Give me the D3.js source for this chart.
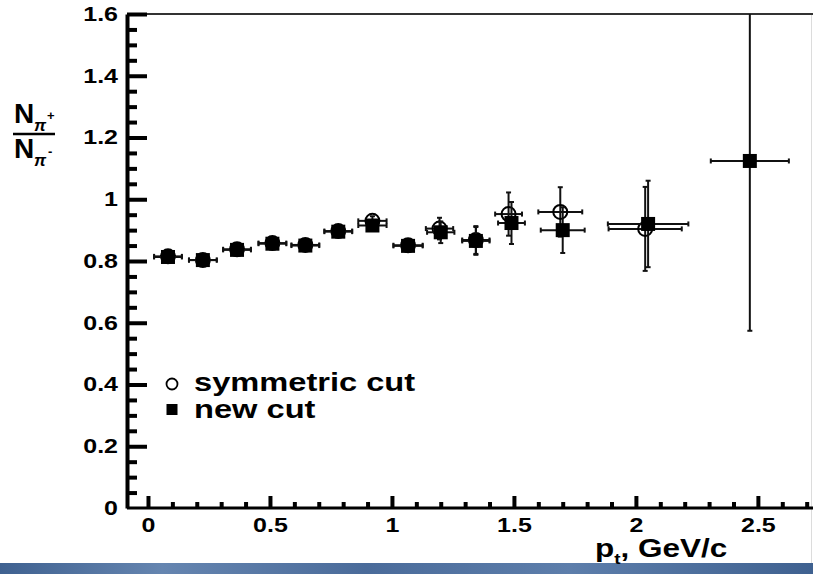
<!DOCTYPE html>
<html>
<head lang="en">
  <meta charset="UTF-8">
  <title>pi+/pi- ratio vs pt</title>
  <script src="https://cdn.jsdelivr.net/npm/d3@7"></script>
</head>
<style>
  body { margin: 0; background: #fff; }
  #chart text { font-family: "Liberation Sans", Arial, sans-serif; font-weight: bold; fill: #000; }
</style>
<body>

<svg id="chart" width="813" height="574"></svg>

<script>
  // new cut (filled squares)
  var ptNew    = [0.082, 0.225, 0.365, 0.51, 0.645, 0.78, 0.92, 1.066, 1.2, 1.344, 1.49, 1.70, 2.05, 2.467];
  var dptNew   = [0.057, 0.057, 0.057, 0.057, 0.057, 0.057, 0.058, 0.06, 0.056, 0.056, 0.055, 0.09, 0.165, 0.16];
  var ratioNew = [0.813, 0.803, 0.836, 0.856, 0.850, 0.895, 0.915, 0.849, 0.893, 0.865, 0.923, 0.900, 0.920, 1.124];
  var errNew   = [0.008, 0.008, 0.009, 0.009, 0.010, 0.012, 0.015, 0.018, 0.035, 0.045, 0.068, 0.074, 0.140, 0.550];

  // symmetric cut (open circles)
  var ptSym    = [0.082, 0.225, 0.365, 0.51, 0.645, 0.78, 0.92, 1.066, 1.195, 1.344, 1.478, 1.69, 2.038];
  var dptSym   = [0.057, 0.057, 0.057, 0.057, 0.057, 0.057, 0.058, 0.06, 0.056, 0.056, 0.055, 0.09, 0.15];
  var ratioSym = [0.815, 0.803, 0.838, 0.858, 0.852, 0.897, 0.930, 0.851, 0.905, 0.868, 0.952, 0.959, 0.904];
  var errSym   = [0.008, 0.008, 0.009, 0.009, 0.010, 0.012, 0.015, 0.018, 0.035, 0.045, 0.070, 0.080, 0.136];

  var xTickValues = [0, 0.5, 1, 1.5, 2, 2.5];
  var xTickLabels = ['0', '0.5', '1', '1.5', '2', '2.5'];
  var yTickValues = [0, 0.2, 0.4, 0.6, 0.8, 1, 1.2, 1.4, 1.6];
  var yTickLabels = ['0', '0.2', '0.4', '0.6', '0.8', '1', '1.2', '1.4', '1.6'];
  var legendLabels = ['symmetric cut', 'new cut'];

  var plotLeft = 127, plotRight = 814, plotTop = 14, plotBottom = 508;
  var x = d3.scaleLinear().domain([-0.086, 2.73]).range([plotLeft, plotRight]);
  var y = d3.scaleLinear().domain([0, 1.6]).range([plotBottom, plotTop]);
  var labelStretch = 1.25;

  var svg = d3.select('#chart');
  var defs = svg.append('defs');

  // blue strip at the bottom
  var grad = defs.append('linearGradient').attr('id', 'strip');
  [['0%', '#3f6190'], ['20%', '#6585b0'], ['45%', '#4a6b9a'], ['70%', '#5d7eab'], ['100%', '#3f6190']]
    .forEach(function (s) { grad.append('stop').attr('offset', s[0]).attr('stop-color', s[1]); });
  svg.append('rect').attr('x', 0).attr('y', 563).attr('width', 813).attr('height', 11).attr('fill', 'url(#strip)');
  svg.append('line').attr('x1', 811.5).attr('x2', 811.5).attr('y1', plotTop).attr('y2', 563)
    .attr('stroke', '#dcdcdc').attr('stroke-width', 1);

  defs.append('clipPath').attr('id', 'plot')
    .append('rect').attr('x', plotLeft).attr('y', plotTop).attr('width', plotRight - plotLeft).attr('height', plotBottom - plotTop);

  // top frame
  svg.append('line').attr('x1', plotLeft).attr('x2', 813).attr('y1', plotTop).attr('y2', plotTop)
    .attr('stroke', '#333').attr('stroke-width', 2);

  // x axis: minor then major
  var xMinor = d3.range(1, 28).map(function (i) { return i / 10; })
    .filter(function (d) { return Math.abs(d * 2 - Math.round(d * 2)) > 1e-6; });
  var gx = svg.append('g').attr('transform', 'translate(0,' + plotBottom + ')');
  gx.append('g').call(d3.axisBottom(x).tickValues(xMinor).tickSizeInner(-6).tickSizeOuter(0).tickFormat(''))
    .call(function (g) { g.select('.domain').remove(); });
  gx.append('g').call(d3.axisBottom(x).tickValues(xTickValues).tickSizeInner(-12).tickSizeOuter(0).tickPadding(10)
      .tickFormat(function (d, i) { return xTickLabels[i]; }))
    .call(function (g) { g.select('.domain').attr('stroke-width', 3).attr('d', 'M' + plotLeft + ',0H813'); });
  gx.selectAll('.tick line').attr('stroke', '#000').attr('stroke-width', 4);
  gx.selectAll('text').attr('font-size', 20).attr('transform', 'scale(' + labelStretch + ',1)')
    .attr('font-family', '"Liberation Sans", Arial, sans-serif').attr('font-weight', 'bold');

  // y axis: minor then major
  var yMinor = d3.range(1, 33).map(function (i) { return i / 20; })
    .filter(function (d) { return Math.abs(d * 5 - Math.round(d * 5)) > 1e-6; });
  var gy = svg.append('g').attr('transform', 'translate(' + plotLeft + ',0)');
  gy.append('g').call(d3.axisLeft(y).tickValues(yMinor).tickSizeInner(-10).tickSizeOuter(0).tickFormat(''))
    .call(function (g) { g.select('.domain').remove(); });
  gy.append('g').call(d3.axisLeft(y).tickValues(yTickValues).tickSizeInner(-20).tickSizeOuter(0).tickPadding(9)
      .tickFormat(function (d, i) { return yTickLabels[i]; }))
    .call(function (g) { g.select('.domain').attr('stroke-width', 4); });
  gy.selectAll('.tick line').attr('stroke', '#000').attr('stroke-width', 4);
  gy.selectAll('.tick').filter(function (d) { return d === 0; }).select('line').remove();
  gy.selectAll('text').attr('font-size', 20).attr('x', -9 / labelStretch).attr('transform', 'scale(' + labelStretch + ',1)')
    .attr('font-family', '"Liberation Sans", Arial, sans-serif').attr('font-weight', 'bold');

  // y title: N_pi+ / N_pi-
  var yt = svg.append('g');
  yt.append('text').attr('x', 14).attr('y', 123).attr('font-size', 28).text('N');
  yt.append('text').attr('x', 34).attr('y', 131).attr('font-size', 17).attr('font-style', 'italic').attr('font-weight', 'normal').text('\u03c0');
  yt.append('text').attr('x', 47).attr('y', 120).attr('font-size', 13).text('+');
  yt.append('line').attr('x1', 13).attr('x2', 55).attr('y1', 134).attr('y2', 134).attr('stroke', '#000').attr('stroke-width', 2.5);
  yt.append('text').attr('x', 14).attr('y', 158).attr('font-size', 28).text('N');
  yt.append('text').attr('x', 34).attr('y', 166).attr('font-size', 17).attr('font-style', 'italic').attr('font-weight', 'normal').text('\u03c0');
  yt.append('text').attr('x', 48).attr('y', 156).attr('font-size', 13).text('-');

  // x title
  var xt = svg.append('text').attr('transform', 'translate(595,557) scale(1.26,1)').attr('font-size', 25);
  xt.append('tspan').text('p');
  xt.append('tspan').attr('font-size', 15).attr('dy', 7).text('t');
  xt.append('tspan').attr('dy', -7).text(', GeV/c');

  // data
  var plot = svg.append('g').attr('clip-path', 'url(#plot)');

  function errorBars(g, pts, dpts, vals, errs) {
    var d = pts.map(function (p, i) { return { p: p, dp: dpts[i], v: vals[i], e: errs[i] }; });
    var eb = g.append('g').attr('stroke', '#111').attr('stroke-width', 2).selectAll('g').data(d).enter().append('g');
    eb.append('line').attr('x1', function (d) { return x(d.p - d.dp); }).attr('x2', function (d) { return x(d.p + d.dp); })
      .attr('y1', function (d) { return y(d.v); }).attr('y2', function (d) { return y(d.v); });
    eb.append('line').attr('x1', function (d) { return x(d.p); }).attr('x2', function (d) { return x(d.p); })
      .attr('y1', function (d) { return y(d.v - d.e); }).attr('y2', function (d) { return y(d.v + d.e); });
    [-1, 1].forEach(function (s) {
      eb.append('line').attr('x1', function (d) { return x(d.p + s * d.dp); }).attr('x2', function (d) { return x(d.p + s * d.dp); })
        .attr('y1', function (d) { return y(d.v) - 2.5; }).attr('y2', function (d) { return y(d.v) + 2.5; });
      eb.append('line').attr('x1', function (d) { return x(d.p) - 2.5; }).attr('x2', function (d) { return x(d.p) + 2.5; })
        .attr('y1', function (d) { return y(d.v + s * d.e); }).attr('y2', function (d) { return y(d.v + s * d.e); });
    });
    return d;
  }

  var symPts = errorBars(plot, ptSym, dptSym, ratioSym, errSym);
  plot.append('g').selectAll('circle').data(symPts).enter().append('circle')
    .attr('cx', function (d) { return x(d.p); }).attr('cy', function (d) { return y(d.v); })
    .attr('r', 7).attr('fill', 'none').attr('stroke', '#000').attr('stroke-width', 2);

  var newPts = errorBars(plot, ptNew, dptNew, ratioNew, errNew);
  plot.append('g').selectAll('rect').data(newPts).enter().append('rect')
    .attr('x', function (d) { return x(d.p) - 7; }).attr('y', function (d) { return y(d.v) - 7; })
    .attr('width', 14).attr('height', 14).attr('fill', '#000');

  // legend
  var lg = svg.append('g');
  lg.append('circle').attr('cx', 172).attr('cy', 384).attr('r', 5.5).attr('fill', 'none').attr('stroke', '#000').attr('stroke-width', 1.8);
  lg.append('rect').attr('x', 166.5).attr('y', 404).attr('width', 11).attr('height', 11).attr('fill', '#000');
  lg.selectAll('text').data(legendLabels).enter().append('text')
    .attr('transform', function (d, i) { return 'translate(194,' + (391 + i * 27) + ') scale(1.28,1)'; })
    .attr('font-size', 25.5).text(function (d) { return d; });
</script>
</body>
</html>
